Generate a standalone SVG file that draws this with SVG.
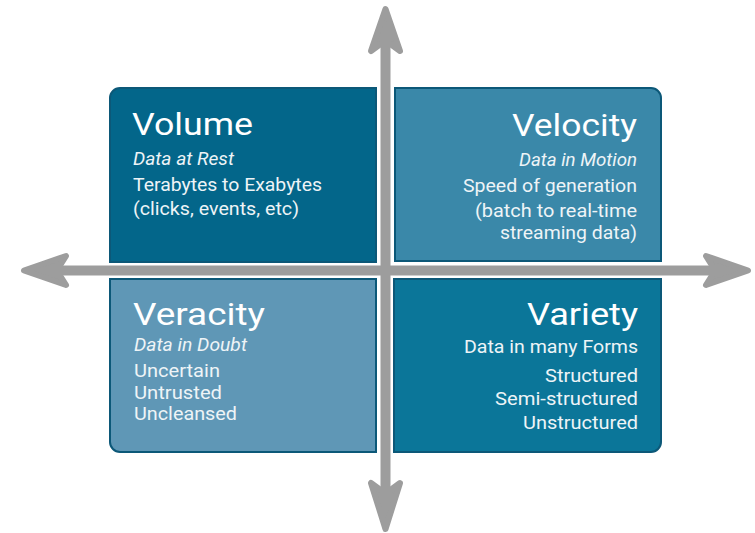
<svg xmlns="http://www.w3.org/2000/svg" width="755" height="533" viewBox="0 0 755 533">
<style>
.box{stroke:#0c5878;stroke-width:2}
.t{font-family:Roboto,"Liberation Sans",sans-serif;fill:#ffffff}
.title{font-size:32px}
.sub{font-size:18px;font-style:italic;fill:#eef4f7}
.body{font-size:18px;fill:#eef4f7}
.r{text-anchor:end}
.axis{stroke:#9d9d9d;stroke-width:10;fill:none}
.head{fill:#9d9d9d;stroke:#9d9d9d;stroke-width:6;stroke-linejoin:round}
</style>
<rect width="755" height="533" fill="#ffffff"/>
<g id="connectors">
<line class="axis" x1="385.5" y1="42" x2="385.5" y2="492"/>
<line class="axis" x1="58" y1="270.5" x2="714" y2="270.5"/>
<path class="head" d="M385.5,9 L400,51 L390.5,44 L380.5,44 L371,51 Z"/>
<path class="head" d="M385.5,529 L400,483 L390.5,490 L380.5,490 L371,483 Z"/>
<path class="head" d="M24,270.5 L66,256 L60,265.5 L60,275.5 L66,285 Z"/>
<path class="head" d="M748,270.5 L706,256 L712,265.5 L712,275.5 L706,285 Z"/>
</g>
<g id="volume">
<path class="box" fill="#03668a" d="M110,262 V98 A10,10 0 0 1 120,88 H376 V262 Z"/>
<text class="t title" x="132" y="135" textLength="121" lengthAdjust="spacingAndGlyphs">Volume</text>
<text class="t sub" x="133" y="165" textLength="101" lengthAdjust="spacingAndGlyphs">Data at Rest</text>
<text class="t body" x="133" y="191" textLength="189" lengthAdjust="spacingAndGlyphs">Terabytes to Exabytes</text>
<text class="t body" x="133" y="215" textLength="166" lengthAdjust="spacingAndGlyphs">(clicks, events, etc)</text>
</g>
<g id="velocity">
<path class="box" fill="#3a88a9" d="M395,88 H651 A10,10 0 0 1 661,98 V261 H395 Z"/>
<text class="t title r" x="637" y="136" textLength="125" lengthAdjust="spacingAndGlyphs">Velocity</text>
<text class="t sub r" x="637" y="166" textLength="118" lengthAdjust="spacingAndGlyphs">Data in Motion</text>
<text class="t body r" x="637" y="192" textLength="174" lengthAdjust="spacingAndGlyphs">Speed of generation</text>
<text class="t body r" x="637" y="217" textLength="162" lengthAdjust="spacingAndGlyphs">(batch to real-time</text>
<text class="t body r" x="637" y="239" textLength="137" lengthAdjust="spacingAndGlyphs">streaming data)</text>
</g>
<g id="veracity">
<path class="box" fill="#5f97b6" d="M110,279 H376 V452 H120 A10,10 0 0 1 110,442 Z"/>
<text class="t title" x="133" y="325" textLength="132" lengthAdjust="spacingAndGlyphs">Veracity</text>
<text class="t sub" x="134" y="351" textLength="113" lengthAdjust="spacingAndGlyphs">Data in Doubt</text>
<text class="t body" x="134" y="377" textLength="86" lengthAdjust="spacingAndGlyphs">Uncertain</text>
<text class="t body" x="134" y="399" textLength="88" lengthAdjust="spacingAndGlyphs">Untrusted</text>
<text class="t body" x="134" y="420" textLength="103" lengthAdjust="spacingAndGlyphs">Uncleansed</text>
</g>
<g id="variety">
<path class="box" fill="#0b7699" d="M394,279 H661 V442 A10,10 0 0 1 651,452 H394 Z"/>
<text class="t title r" x="638" y="325" textLength="111" lengthAdjust="spacingAndGlyphs">Variety</text>
<text class="t body r" x="638" y="353" textLength="174" lengthAdjust="spacingAndGlyphs">Data in many Forms</text>
<text class="t body r" x="638" y="382" textLength="93" lengthAdjust="spacingAndGlyphs">Structured</text>
<text class="t body r" x="638" y="405" textLength="143" lengthAdjust="spacingAndGlyphs">Semi-structured</text>
<text class="t body r" x="638" y="429" textLength="115" lengthAdjust="spacingAndGlyphs">Unstructured</text>
</g>
</svg>
